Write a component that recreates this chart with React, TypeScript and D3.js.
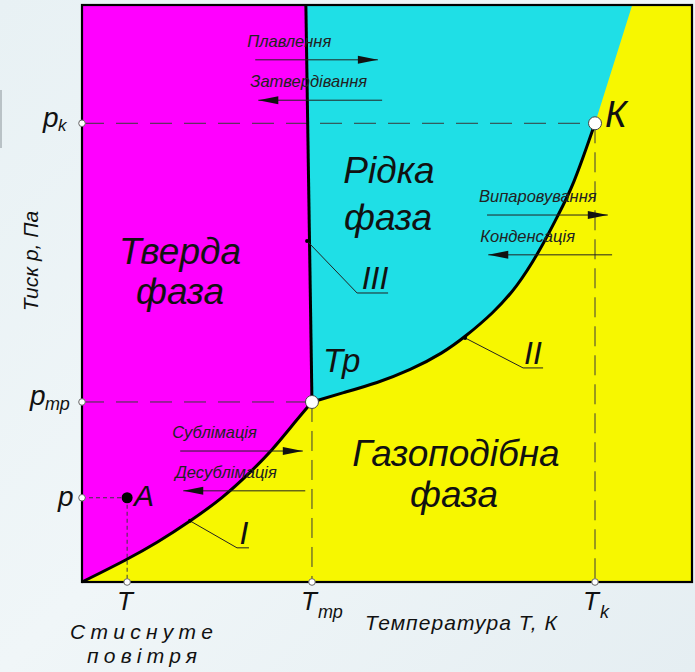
import React from "react";
import * as d3 from "d3";

// Phase diagram in relative units: temperature 0..100, pressure 0..100
const sublimationT = [0, 7.4, 12.3, 17.7, 23.1, 27.5, 31.3, 34.1, 37.7];
const sublimationP = [0, 3.9, 6.8, 10.5, 14.6, 18.9, 23.0, 26.7, 31.2];

const vaporT = [37.7, 42.8, 48.4, 53.8, 59.2, 62.8, 67.4, 71.3, 75.1, 77.9, 80.5, 84.1];
const vaporP = [31.2, 32.8, 34.5, 36.7, 39.7, 42.5, 46.6, 51.1, 57.5, 63.3, 68.5, 79.5];

const meltingT = [37.7, 36.7];
const meltingP = [31.2, 100];

// liquid / gas boundary above the critical point
const supercritT = [84.1, 90.2];
const supercritP = [79.5, 100];

const triplePoint = { T: 37.7, p: 31.2 };
const criticalPoint = { T: 84.1, p: 79.5 };
const pointA = { T: 7.4, p: 14.6 };

// process arrows: label, T from, T to, pressure, direction
const processNames = ["Плавлення", "Затвердівання", "Випаровування", "Конденсація", "Сублімація", "Десублімація"];
const processT0 = [28.4, 28.9, 66.4, 66.6, 16.1, 16.6];
const processT1 = [48.5, 49.2, 86.2, 86.9, 36.2, 36.6];
const processP = [90.5, 83.5, 63.6, 56.7, 22.7, 15.8];
const processDir = [1, -1, 1, -1, 1, -1];

const W = 695;
const H = 672;
const plot = { left: 82, right: 692, top: 5, bottom: 582 };

const MAGENTA = "#ff00ff";
const CYAN = "#1fdfe6";
const YELLOW = "#f7f700";
const FONT = "'Liberation Sans', Arial, Helvetica, sans-serif";

export default function App() {
  const x = d3.scaleLinear().domain([0, 100]).range([plot.left, plot.right]);
  const y = d3.scaleLinear().domain([0, 100]).range([plot.bottom, plot.top]);

  const zip = (ts: number[], ps: number[]) => ts.map((t, i) => [t, ps[i]] as [number, number]);
  const sub = zip(sublimationT, sublimationP);
  const vap = zip(vaporT, vaporP);
  const melt = zip(meltingT, meltingP);

  const smooth = d3
    .line<[number, number]>()
    .x((d) => x(d[0]))
    .y((d) => y(d[1]))
    .curve(d3.curveBasis);
  const straight = d3
    .line<[number, number]>()
    .x((d) => x(d[0]))
    .y((d) => y(d[1]));

  // solid region: under the melting line, above the sublimation curve
  const solidPath =
    smooth(sub)! +
    "L" + x(meltingT[1]) + "," + y(meltingP[1]) +
    "L" + x(0) + "," + y(100) + "Z";

  // liquid region: right of the melting line, above the vaporization curve
  const vapRev = vap.slice().reverse();
  const liquidPath =
    "M" + x(meltingT[0]) + "," + y(meltingP[0]) +
    "L" + x(meltingT[1]) + "," + y(meltingP[1]) +
    "L" + x(supercritT[1]) + "," + y(supercritP[1]) +
    "L" + x(supercritT[0]) + "," + y(supercritP[0]) +
    smooth(vapRev)!.replace(/^M[^LC]*/, "") +
    "Z";

  const dash = "#3a3a3a";
  const arrows = processNames.map((name, i) => {
    const x0 = x(processT0[i]);
    const x1 = x(processT1[i]);
    const yy = y(processP[i]);
    const dir = processDir[i];
    const tip = dir > 0 ? x1 : x0;
    const head = `M${tip},${yy} L${tip - dir * 20},${yy - 4} L${tip - dir * 20},${yy + 4} Z`;
    return (
      <g key={name}>
        <line x1={x0} x2={x1} y1={yy} y2={yy} stroke="#222" strokeWidth={1} />
        <path d={head} fill="#111" />
        <text x={Math.min(x0, x1) - 8} y={yy - 13} fontSize={16.5} fontStyle="italic" fill="#222">
          {name}
        </text>
      </g>
    );
  });

  const axisDot = (cx: number, cy: number, key: string) => (
    <circle key={key} cx={cx} cy={cy} r={3.3} fill="#fff" stroke="#666" strokeWidth={1} />
  );

  const xTp = x(triplePoint.T);
  const yTp = y(triplePoint.p);
  const xK = x(criticalPoint.T);
  const yK = y(criticalPoint.p);
  const xA = x(pointA.T);
  const yA = y(pointA.p);

  // leader anchors on the curves
  const leadIII = { x: x(36.9), y: y(59.1) };
  const leadII = { x: x(62.8), y: y(42.3) };
  const leadI = { x: x(17.7), y: y(10.6) };

  return (
    <svg
      width={W}
      height={H}
      viewBox={`0 0 ${W} ${H}`}
      style={{ position: "absolute", left: 0, top: 0, display: "block" }}
      fontFamily={FONT}
    >
      <defs>
        <linearGradient id="bg" x1="0" y1="0" x2="1" y2="1">
          <stop offset="0" stopColor="#e8f1f4" />
          <stop offset="0.5" stopColor="#f0f6f8" />
          <stop offset="1" stopColor="#e5eef2" />
        </linearGradient>
      </defs>
      <rect x={0} y={0} width={W} height={H} fill="url(#bg)" />
      <rect x={0} y={90} width={2} height={58} fill="#b9c2c6" />

      {/* phase regions */}
      <rect
        x={plot.left}
        y={plot.top}
        width={plot.right - plot.left}
        height={plot.bottom - plot.top}
        fill={YELLOW}
      />
      <path d={solidPath} fill={MAGENTA} />
      <path d={liquidPath} fill={CYAN} />

      {/* reference lines */}
      <line x1={x(0)} x2={xK} y1={yK} y2={yK} stroke={dash} strokeWidth={1} strokeDasharray="22,12" />
      <line x1={xK} x2={xK} y1={yK} y2={y(0)} stroke={dash} strokeWidth={1} strokeDasharray="20,9" />
      <line x1={x(0)} x2={xTp} y1={yTp} y2={yTp} stroke={dash} strokeWidth={1} strokeDasharray="22,12" />
      <line x1={xTp} x2={xTp} y1={yTp} y2={y(0)} stroke={dash} strokeWidth={1} strokeDasharray="20,9" />
      <line x1={x(0)} x2={xA} y1={yA} y2={yA} stroke={dash} strokeWidth={1} strokeDasharray="4,3" />
      <line x1={xA} x2={xA} y1={yA} y2={y(0)} stroke={dash} strokeWidth={1} strokeDasharray="4,3" />

      {/* phase boundaries */}
      <path d={smooth(sub)!} fill="none" stroke="#000" strokeWidth={3} />
      <path d={smooth(vap)!} fill="none" stroke="#000" strokeWidth={3} />
      <path d={straight(melt)!} fill="none" stroke="#000" strokeWidth={3} />

      {/* frame */}
      <rect
        x={plot.left}
        y={plot.top}
        width={plot.right - plot.left}
        height={plot.bottom - plot.top}
        fill="none"
        stroke="#000"
        strokeWidth={2.2}
      />

      {/* process arrows */}
      {arrows}

      {/* leaders */}
      <polyline
        points={`${leadIII.x},${leadIII.y} ${leadIII.x + 50},${leadIII.y + 52} ${leadIII.x + 81},${leadIII.y + 52}`}
        fill="none"
        stroke="#222"
        strokeWidth={1}
      />
      <circle cx={leadIII.x} cy={leadIII.y} r={2} fill="#000" />
      <text x={375} y={289} fontSize={32} fontStyle="italic" textAnchor="middle" fill="#111">III</text>
      <polyline
        points={`${leadII.x},${leadII.y} ${leadII.x + 58},${leadII.y + 30} ${leadII.x + 78},${leadII.y + 30}`}
        fill="none"
        stroke="#222"
        strokeWidth={1}
      />
      <circle cx={leadII.x} cy={leadII.y} r={2} fill="#000" />
      <text x={533} y={364} fontSize={32} fontStyle="italic" textAnchor="middle" fill="#111">II</text>
      <polyline
        points={`${leadI.x},${leadI.y} ${leadI.x + 47},${leadI.y + 27} ${leadI.x + 59},${leadI.y + 27}`}
        fill="none"
        stroke="#222"
        strokeWidth={1}
      />
      <circle cx={leadI.x} cy={leadI.y} r={2} fill="#000" />
      <text x={244} y={544} fontSize={32} fontStyle="italic" textAnchor="middle" fill="#111">I</text>

      {/* points */}
      {axisDot(x(0), yK, "dk")}
      {axisDot(x(0), yTp, "dtp")}
      {axisDot(x(0), yA, "da")}
      {axisDot(xA, y(0), "ta")}
      {axisDot(xTp, y(0), "ttp")}
      {axisDot(xK, y(0), "tk")}
      <circle cx={xTp} cy={yTp} r={6.5} fill="#fff" stroke="#444" strokeWidth={1} />
      <circle cx={xK} cy={yK} r={6.5} fill="#fff" stroke="#444" strokeWidth={1} />
      <circle cx={xA} cy={yA} r={5.5} fill="#000" />

      {/* phase labels */}
      <g fontSize={37} fontStyle="italic" fill="#111" textAnchor="middle">
        <text x={180} y={264}>Тверда</text>
        <text x={180} y={304}>фаза</text>
        <text x={389} y={183}>Рідка</text>
        <text x={388} y={230}>фаза</text>
        <text x={456} y={466}>Газоподібна</text>
        <text x={454} y={507}>фаза</text>
      </g>
      <text x={323} y={372} fontSize={33} fontStyle="italic" fill="#111">Тр</text>
      <text x={605} y={127} fontSize={37} fontStyle="italic" fill="#111">К</text>
      <text x={134} y={506} fontSize={30} fontStyle="italic" fill="#111">А</text>

      {/* axis labels */}
      <g fontStyle="italic" fill="#111">
        <text x={43} y={127} fontSize={28}>p</text>
        <text x={58} y={131} fontSize={17}>k</text>
        <text x={30} y={405} fontSize={28}>p</text>
        <text x={45} y={410} fontSize={18}>тр</text>
        <text x={58} y={506} fontSize={28}>p</text>

        <text x={117} y={610} fontSize={26}>T</text>
        <text x={301} y={610} fontSize={26}>T</text>
        <text x={318} y={618} fontSize={18}>тр</text>
        <text x={583} y={610} fontSize={26}>T</text>
        <text x={600} y={618} fontSize={18}>k</text>

        <text x={365} y={630} fontSize={21} textLength={192} lengthAdjust="spacing">
          Температура Т, К
        </text>
        <text x={70} y={639} fontSize={21} textLength={143} lengthAdjust="spacing">
          Стиснуте
        </text>
        <text x={87} y={663} fontSize={21} textLength={110} lengthAdjust="spacing">
          повітря
        </text>
        <text transform="translate(38,261) rotate(-90)" fontSize={21} textAnchor="middle">
          Тиск р, Па
        </text>
      </g>
    </svg>
  );
}
